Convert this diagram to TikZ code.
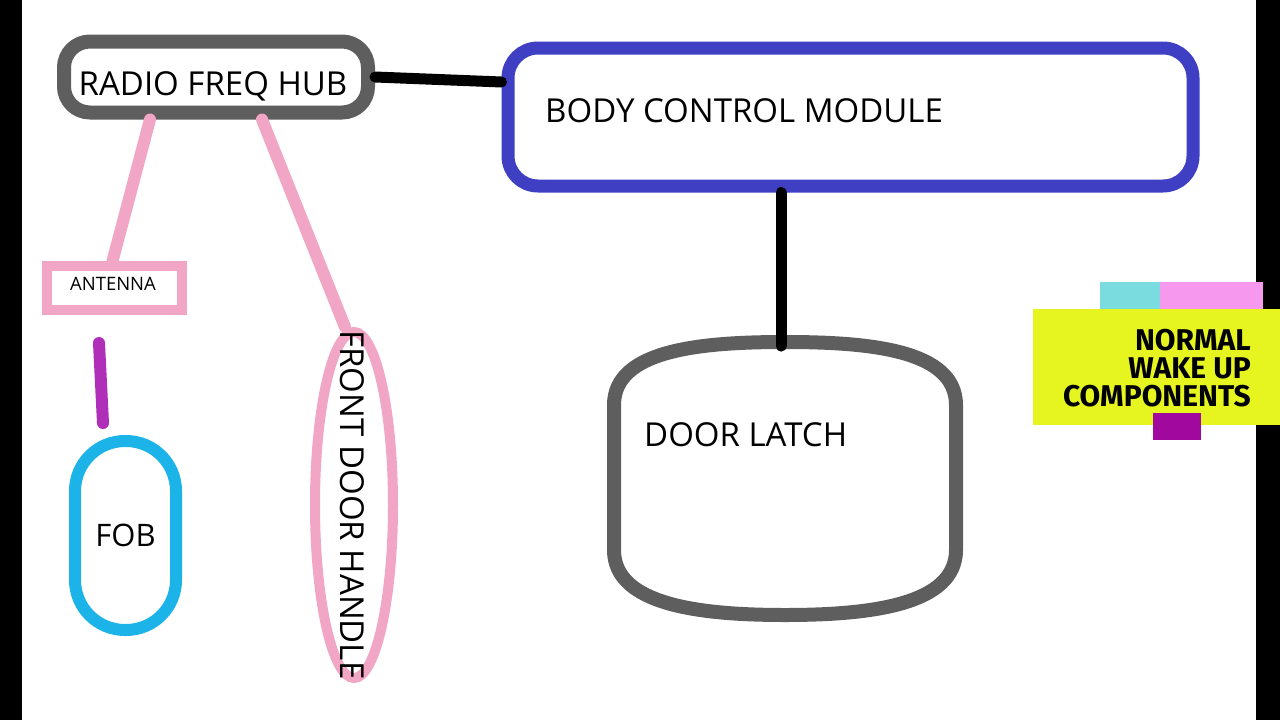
\documentclass[tikz,border=0pt]{standalone}
\usepackage{fontspec}
\setmainfont{Open Sans}
\newfontfamily\legendfont{Fira Sans}
\usetikzlibrary{shapes.geometric}

\definecolor{hubgray}{HTML}{5E5E5E}
\definecolor{bcmblue}{HTML}{3F3FC4}
\definecolor{rfpink}{HTML}{F2A6C6}
\definecolor{fobcyan}{HTML}{1BB3E8}
\definecolor{wirepurple}{HTML}{B02FB8}
\definecolor{tagcyan}{HTML}{7BDCE0}
\definecolor{tagpink}{HTML}{F598EE}
\definecolor{tagyellow}{HTML}{E6F51F}
\definecolor{tagpurple}{HTML}{A1089E}

\begin{document}
\begin{tikzpicture}[x=1pt,y=-1pt,
    big/.style={font=\fontsize{33}{38}\selectfont},
    wire/.style={line width=11pt,line cap=round},
    pinkwire/.style={rfpink,line width=12pt,line cap=round}]
    \useasboundingbox (0,0) rectangle (1280,720);
    \fill[white] (0,0) rectangle (1280,720);
    \fill[black] (0,0) rectangle (22,720);
    \fill[black] (1256,0) rectangle (1280,720);

    % modules
    \node[draw=hubgray,line width=14pt,rounded corners=26pt,minimum width=304pt,minimum height=71pt,inner sep=0pt] (hub) at (216,77) {};
    \node[inner sep=0pt,big] (hubtext) at (213,86) {RADIO FREQ HUB};
    \node[draw=bcmblue,line width=13pt,rounded corners=30pt,minimum width=685pt,minimum height=138pt] (bcm) at (850.5,117) {};
    \node[anchor=west,inner sep=0pt,big] (bcmtext) at (545,111) {BODY CONTROL MODULE};
    \draw[hubgray,line width=14pt] (614,405) .. controls (614,350) and (700,342) .. (785,342) .. controls (870,342) and (956,350) .. (956,405) -- (956,550) .. controls (956,605) and (870,615) .. (785,615) .. controls (700,615) and (614,605) .. (614,550) -- cycle;
    \coordinate (latch) at (781,346);
    \node[anchor=west,inner sep=0pt,big] (latchtext) at (644,435) {DOOR LATCH};

    % rf side
    \node[draw=rfpink,line width=10pt,minimum width=135pt,minimum height=44pt,inner sep=0pt] (antenna) at (114.5,288) {};
    \node[inner sep=0pt,font=\fontsize{18.5}{22}\selectfont] (antennatext) at (113,284) {ANTENNA};
    \node[draw=rfpink,line width=10pt,ellipse,minimum width=78pt,minimum height=346pt,inner sep=0pt] (handle) at (354,505) {};
    \node[rotate=-90,inner sep=0pt,big] (handletext) at (352,505) {FRONT DOOR HANDLE};
    \node[draw=fobcyan,line width=12pt,rounded corners=50pt,minimum width=101pt,minimum height=189pt,inner sep=0pt,font=\fontsize{31}{36}\selectfont] (fob) at (125.5,535.5) {FOB};
    \coordinate (fobtop) at (99,343);
    \coordinate (fobbot) at (103,423);

    % links
    \draw[wire] (hub.east) -- ([yshift=35pt]bcm.west);
    \draw[wire] (bcm.south -| latch) -- (latch);
    \draw[pinkwire] ([xshift=-66pt]hub.south) -- ([xshift=-2pt]antenna.north);
    \draw[pinkwire] ([xshift=46pt]hub.south) -- ([xshift=-9pt]handle.north);
    \draw[wirepurple,line width=12pt,line cap=round] (fobtop) -- (fobbot);

    % tag
    \fill[tagcyan] (1100,282) rectangle (1160,310);
    \fill[tagpink] (1160,282) rectangle (1263,310);
    \fill[tagyellow] (1033,309) rectangle (1280,425);
    \fill[tagpurple] (1153,413) rectangle (1201,440);
    \node[anchor=east,align=right,inner sep=0pt,font=\legendfont\bfseries\fontsize{30}{28}\selectfont] (tag) at (1251,368) {NORMAL\\WAKE UP\\COMPONENTS};
\end{tikzpicture}
\end{document}
